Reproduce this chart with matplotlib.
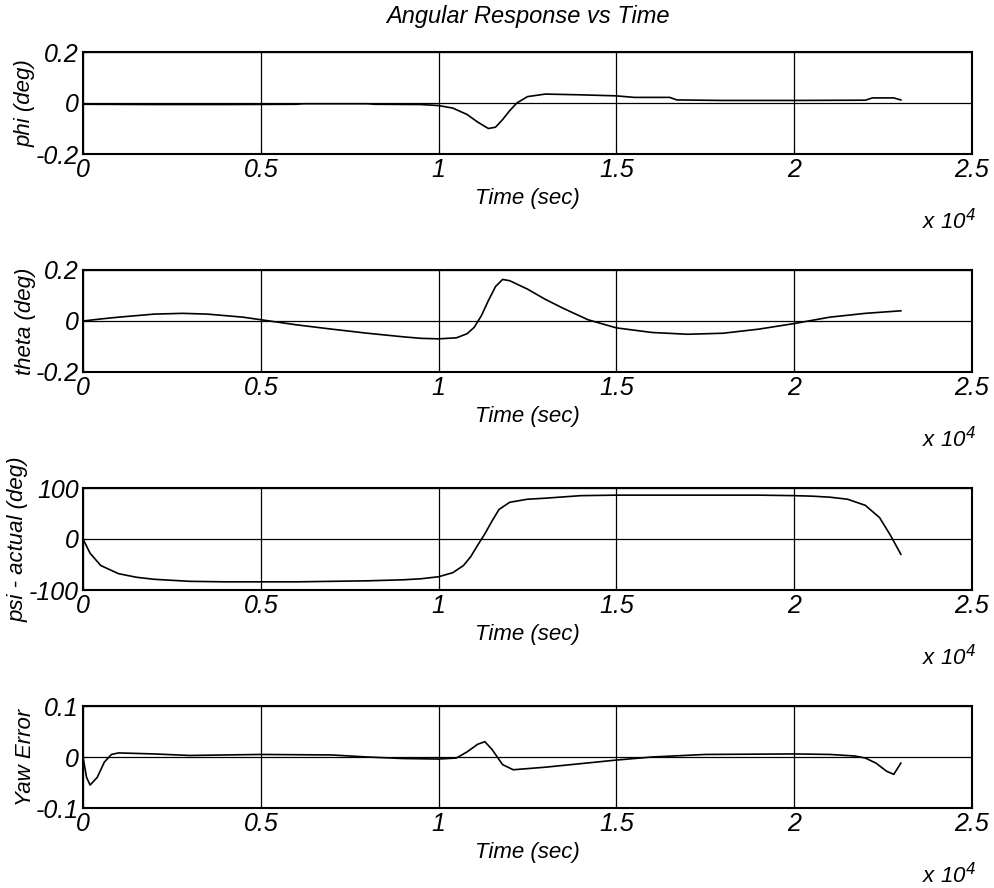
import matplotlib
matplotlib.use('Agg')
import matplotlib.pyplot as plt
from matplotlib.ticker import FuncFormatter

plt.rcParams['font.family'] = ['Liberation Sans', 'DejaVu Sans']
plt.rcParams['font.style'] = 'italic'
plt.rcParams['axes.unicode_minus'] = False

# time in units of 10^4 sec
t_phi = [0, 0.2, 0.4, 0.6, 0.62, 0.8, 0.82, 0.95, 1.0, 1.04, 1.08, 1.11, 1.14, 1.16, 1.18, 1.2, 1.22, 1.25,
         1.3, 1.4, 1.5, 1.55, 1.65, 1.67, 1.8, 2.0, 2.2, 2.22, 2.28, 2.3]
phi = [-0.005, -0.006, -0.006, -0.005, -0.003, -0.003, -0.005, -0.006, -0.01, -0.02, -0.045, -0.075, -0.1, -0.095,
       -0.065, -0.03, 0.0, 0.025, 0.035, 0.032, 0.028, 0.022, 0.022, 0.012, 0.01, 0.01, 0.011, 0.02, 0.02, 0.012]

t_theta = [0, 0.05, 0.1, 0.2, 0.28, 0.35, 0.45, 0.5, 0.6, 0.7, 0.8, 0.9, 0.95, 1.0, 1.05, 1.08, 1.1, 1.12,
           1.14, 1.16, 1.18, 1.2, 1.25, 1.3, 1.35, 1.42, 1.5, 1.6, 1.7, 1.8, 1.9, 2.0, 2.1, 2.2, 2.3]
theta = [0.0, 0.008, 0.015, 0.027, 0.03, 0.027, 0.015, 0.005, -0.015, -0.032, -0.048, -0.062, -0.068, -0.07, -0.066,
         -0.05, -0.025, 0.02, 0.08, 0.135, 0.163, 0.158, 0.125, 0.085, 0.05, 0.005, -0.027, -0.045, -0.052, -0.048,
         -0.032, -0.01, 0.015, 0.03, 0.04]

t_psi = [0, 0.02, 0.05, 0.1, 0.15, 0.2, 0.3, 0.4, 0.5, 0.6, 0.7, 0.8, 0.9, 0.95, 1.0, 1.04, 1.07, 1.09, 1.11, 1.13,
         1.15, 1.17, 1.2, 1.25, 1.3, 1.4, 1.5, 1.7, 1.9, 2.0, 2.05, 2.1, 2.15, 2.2, 2.24, 2.27, 2.3]
psi = [0, -28, -52, -68, -75, -79, -83, -84, -84, -84, -83, -82, -80, -78, -74, -66, -52, -35, -12, 10,
       35, 58, 72, 78, 80, 85, 86, 86, 86, 85, 84, 82, 78, 66, 42, 8, -30]

t_yaw = [0, 0.01, 0.02, 0.04, 0.06, 0.08, 0.1, 0.2, 0.3, 0.5, 0.7, 0.8, 0.9, 1.0, 1.05, 1.08, 1.11, 1.13, 1.15,
         1.18, 1.21, 1.3, 1.4, 1.5, 1.6, 1.75, 2.0, 2.1, 2.17, 2.2, 2.23, 2.26, 2.28, 2.3]
yaw = [0, -0.04, -0.055, -0.04, -0.01, 0.005, 0.008, 0.006, 0.003, 0.005, 0.004, 0.0, -0.003, -0.004, -0.002,
       0.01, 0.025, 0.03, 0.015, -0.015, -0.025, -0.02, -0.013, -0.006, 0.0, 0.005, 0.006, 0.005, 0.002, -0.002,
       -0.012, -0.028, -0.034, -0.012]

y_labels = ['phi (deg)', 'theta (deg)', 'psi - actual (deg)', 'Yaw Error']
y_limits = [(-0.2, 0.2), (-0.2, 0.2), (-100, 100), (-0.1, 0.1)]
y_tick_labels = [['-0.2', '0', '0.2'], ['-0.2', '0', '0.2'], ['-100', '0', '100'], ['-0.1', '0', '0.1']]
x_ticks = [0, 0.5, 1, 1.5, 2, 2.5]

series = [(t_phi, phi), (t_theta, theta), (t_psi, psi), (t_yaw, yaw)]

W, H = 994, 888
fig = plt.figure(figsize=(W / 100, H / 100), dpi=100)
tops = [52, 270, 488, 706]
ax_h = 102
left, right = 83, 972

for k in range(4):
    ax = fig.add_axes([left / W, 1 - (tops[k] + ax_h) / H, (right - left) / W, ax_h / H])
    t, v = series[k]
    ax.plot([x * 1e4 for x in t], v, color='black', lw=1.2)
    lo, hi = y_limits[k]
    ax.set_xlim(0, 25000)
    ax.set_ylim(lo, hi)
    ax.set_xticks([x * 1e4 for x in x_ticks])
    ax.xaxis.set_major_formatter(FuncFormatter(lambda x, p: ('%g' % (x / 1e4))))
    ax.set_yticks([lo, 0, hi])
    ax.set_yticklabels(y_tick_labels[k])
    ax.grid(True, color='black', lw=0.9, ls='-')
    ax.tick_params(direction='in', length=3, labelsize=18, pad=3, width=0.8)
    for s in ax.spines.values():
        s.set_linewidth(1.5)
    ax.set_xlabel('Time (sec)', fontsize=16, labelpad=4)
    ax.set_ylabel(y_labels[k], fontsize=16, labelpad=0)
    fig.text(right / W + 0.004, 1 - (tops[k] + ax_h + 68) / H, 'x 10$^4$', ha='right', va='center',
             fontsize=16, style='italic')

fig.text((left + right) / 2 / W, 1 - 16 / H, 'Angular Response vs Time', ha='center', va='center', fontsize=17)

fig.savefig('out.png', dpi=100)
